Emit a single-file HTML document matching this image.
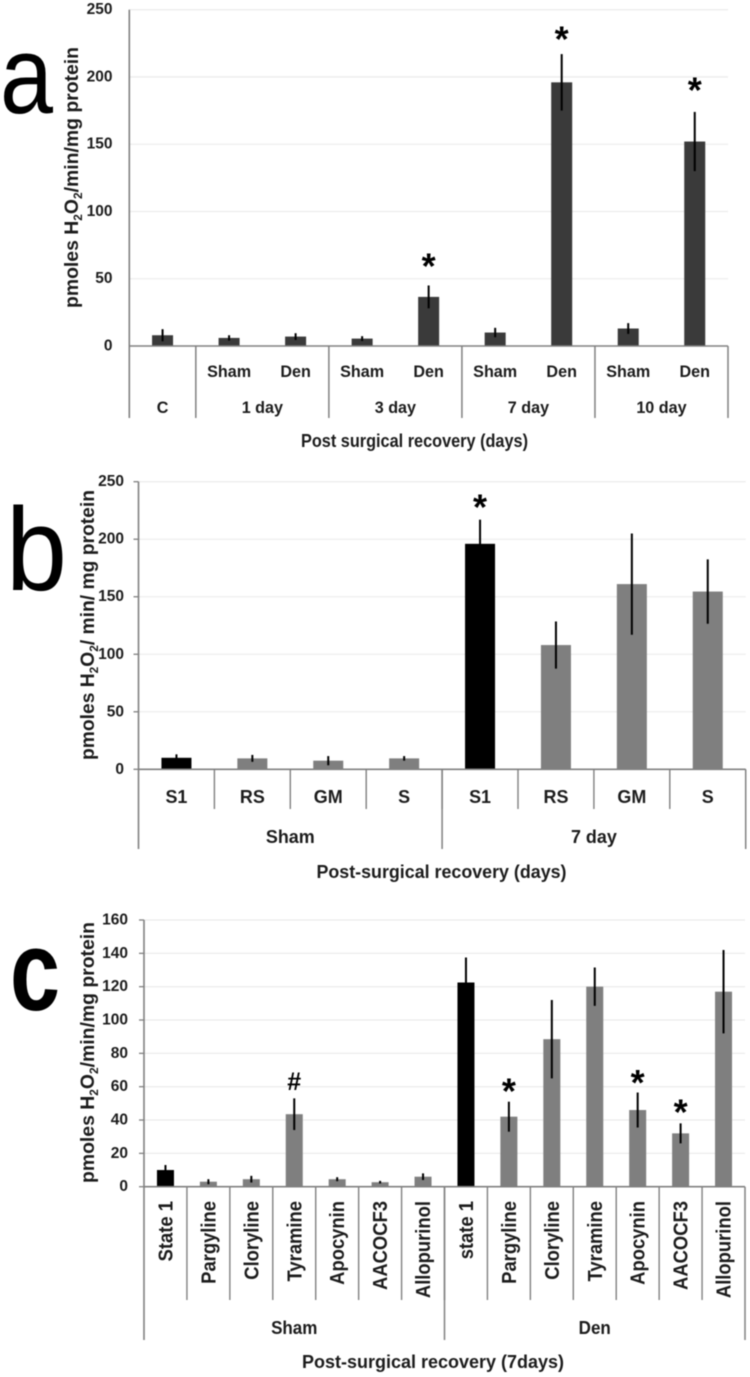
<!DOCTYPE html>
<html lang="en">
<head>
<meta charset="utf-8">
<title>H2O2 production panels</title>
<style>
html,body{margin:0;padding:0;background:#fff;width:750px;height:1377px;overflow:hidden}
svg{display:block;filter:blur(0.45px)}
text{font-family:"Liberation Sans",sans-serif;font-weight:bold;fill:#1c1c1c}
</style>
</head>
<body>
<svg id="fig" xmlns="http://www.w3.org/2000/svg" width="750" height="1377" viewBox="0 0 750 1377">
  <text x="0" y="113" textLength="53" lengthAdjust="spacingAndGlyphs" style="font-size:110px;font-weight:normal;fill:#000">a</text>
  <text x="6" y="590" textLength="61" lengthAdjust="spacingAndGlyphs" style="font-size:118px;font-weight:normal;fill:#000">b</text>
  <text x="10" y="1010" textLength="50" lengthAdjust="spacingAndGlyphs" style="font-size:114px;fill:#000">c</text>
</svg>
<script>
// Panel a data
const aTicks = [0, 50, 100, 150, 200, 250];
const aCategories = ["C", "Sham", "Den", "Sham", "Den", "Sham", "Den", "Sham", "Den"];
const aValues = [8, 6, 7, 5.5, 36.5, 10, 196, 13, 152];
const aErrors = [4.5, 2, 2.5, 1.8, 8.5, 3.5, 21, 4, 22];
const aGroups = ["C", "1 day", "3 day", "7 day", "10 day"];
const aGroupSizes = [1, 2, 2, 2, 2];
const aColors = ["dark", "dark", "dark", "dark", "dark", "dark", "dark", "dark", "dark"];
const aMarkers = [[4, "*", 62], [6, "*", 231], [8, "*", 193]];

// Panel b data
const bTicks = [0, 50, 100, 150, 200, 250];
const bCategories = ["S1", "RS", "GM", "S", "S1", "RS", "GM", "S"];
const bValues = [10, 9.5, 7.5, 9.5, 196, 108, 161, 154.5];
const bErrors = [3, 3, 4, 2, 21, 20.5, 44, 28];
const bGroups = ["Sham", "7 day"];
const bGroupSizes = [4, 4];
const bColors = ["black", "grey", "grey", "grey", "black", "grey", "grey", "grey"];
const bMarkers = [[4, "*", 231]];

// Panel c data
const cTicks = [0, 20, 40, 60, 80, 100, 120, 140, 160];
const cCategories = ["State 1", "Pargyline", "Cloryline", "Tyramine", "Apocynin", "AACOCF3", "Allopurinol", "state 1", "Pargyline", "Cloryline", "Tyramine", "Apocynin", "AACOCF3", "Allopurinol"];
const cValues = [10, 3, 4.5, 43.5, 4.5, 2.7, 6, 122.5, 42, 88.5, 120, 46, 32, 117];
const cErrors = [3, 1.5, 2, 9.5, 1.2, 0.8, 2, 15, 9, 23.5, 11.5, 10.5, 6, 25];
const cGroups = ["Sham", "Den"];
const cGroupSizes = [7, 7];
const cColors = ["black", "grey", "grey", "grey", "grey", "grey", "grey", "black", "grey", "grey", "grey", "grey", "grey", "grey"];
const cMarkers = [[3, "#", 63.4], [8, "*", 59.4], [11, "*", 64.6], [12, "*", 47]];

const svg = document.getElementById('fig');
const NS = 'http://www.w3.org/2000/svg';
const FILL = {dark: '#3a3a3a', grey: '#7f7f7f', black: '#000000'};

function mk(tag, attrs, parent, txt) {
  const e = document.createElementNS(NS, tag);
  for (const k in attrs) e.setAttribute(k, attrs[k]);
  if (txt !== undefined) e.textContent = txt;
  parent.appendChild(e);
  return e;
}

// narrows a label horizontally so it reads like the condensed original type
function condense(t, factor) {
  const w = t.getComputedTextLength();
  t.setAttribute('textLength', (w * factor).toFixed(2));
  t.setAttribute('lengthAdjust', 'spacingAndGlyphs');
}

function drawPanel(id, d, L) {
  const g = mk('g', {}, svg);
  
  

  const maxTick = d.ticks[d.ticks.length - 1];
  const yScale = v => L.y0 - (L.y0 - L.yTop) * v / maxTick;
  const step = (L.right - L.left) / d.categories.length;
  const xEdge = i => L.left + step * i;
  const xMid = i => L.left + step * (i + 0.5);

  // gridlines, y ticks and their labels
  d.ticks.forEach(t => {
    if (t > 0) {
      const gl = mk('line', {x1: L.left, x2: L.right, y1: yScale(t), y2: yScale(t), stroke: '#ececec', 'stroke-width': 1.3}, g);
      
      
    }
    if (L.tickOut) {
      const tk = mk('line', {x1: L.left - L.tickOut, x2: L.left, y1: yScale(t), y2: yScale(t), stroke: '#808080', 'stroke-width': 1.3}, g);
      
      
    }
    const lb = mk('text', {x: L.tickRight, y: yScale(t) + 4.5, 'text-anchor': 'end', 'font-size': 15.5}, g, String(t));
    
    
  });

  // bars and error bars
  d.values.forEach((v, i) => {
    const bar = mk('rect', {x: xMid(i) - L.barW / 2, y: yScale(v), width: L.barW, height: L.y0 - yScale(v), fill: FILL[d.colors[i]]}, g);
    
    
    const er = mk('line', {x1: xMid(i), x2: xMid(i), y1: yScale(v + d.errors[i]), y2: yScale(v - d.errors[i]), stroke: '#000', 'stroke-width': 2}, g);
    
    
  });

  // axes
  const yAxis = mk('line', {x1: L.left, x2: L.left, y1: L.yTop, y2: L.groupBottom, stroke: '#808080', 'stroke-width': 1.6}, g);
  
  
  const xAxis = mk('line', {x1: L.left, x2: L.right, y1: L.y0, y2: L.y0, stroke: '#808080', 'stroke-width': 1.6}, g);
  
  

  // category separators (inner level)
  if (L.innerBottom) {
    d.categories.forEach((c, i) => {
      if (i === 0) return;
      const s = mk('line', {x1: xEdge(i), x2: xEdge(i), y1: L.y0, y2: L.innerBottom, stroke: '#808080', 'stroke-width': 1.4}, g);
      
      
    });
  }

  // category labels
  d.categories.forEach((c, i) => {
    if (L.skipLabel && L.skipLabel.includes(i)) return;
    let t;
    if (L.rotate) {
      t = mk('text', {transform: 'translate(' + (xMid(i) + 7) + ',' + L.catY + ') rotate(-90)', 'text-anchor': 'end', 'font-size': L.catSize}, g, c);
    } else {
      t = mk('text', {x: xMid(i), y: L.catY, 'text-anchor': 'middle', 'font-size': L.catSize}, g, c);
    }
    
    
    condense(t, L.catFactor);
  });

  // group separators and labels
  let pos = 0;
  d.groupSizes.forEach((n, i) => {
    const mid = (xEdge(pos) + xEdge(pos + n)) / 2;
    const lb = mk('text', {x: mid, y: L.groupY, 'text-anchor': 'middle', 'font-size': L.groupSize}, g, d.groups[i]);
    
    
    condense(lb, L.catFactor);
    pos += n;
    const s = mk('line', {x1: xEdge(pos), x2: xEdge(pos), y1: L.y0, y2: L.groupBottom, stroke: '#808080', 'stroke-width': 1.5}, g);
    
    
  });

  // significance markers
  d.markers.forEach(m => {
    const big = m[1] === '*';
    const sz = big ? 36 : 25;
    const off = big ? 16 : 9;
    const t = mk('text', {x: xMid(m[0]), y: yScale(m[2]) + off, 'text-anchor': 'middle', 'font-size': sz, style: 'fill:#000'}, g, m[1]);
    
    
  });

  // x title
  const xt = mk('text', {x: L.xTitleX, y: L.xTitleY, textLength: L.xTitleLen, lengthAdjust: 'spacingAndGlyphs', 'font-size': 18}, g, d.xTitle);
  
  

  // y title with subscripts
  const yt = mk('text', {transform: 'translate(' + L.yTitleX + ',' + L.yTitleBottom + ') rotate(-90)', textLength: L.yTitleLen, lengthAdjust: 'spacingAndGlyphs', 'font-size': 19.5}, g);
  
  
  mk('tspan', {}, yt, 'pmoles H');
  mk('tspan', {dy: 4, 'font-size': 12}, yt, '2');
  mk('tspan', {dy: -4}, yt, 'O');
  mk('tspan', {dy: 4, 'font-size': 12}, yt, '2');
  mk('tspan', {dy: -4}, yt, d.yTail);
}

drawPanel('a', {
  ticks: aTicks, categories: aCategories, values: aValues, errors: aErrors,
  groups: aGroups, groupSizes: aGroupSizes, colors: aColors, markers: aMarkers,
  xTitle: 'Post surgical recovery (days)', yTail: '/min/mg protein'
}, {
  left: 129.3, right: 728, y0: 346, yTop: 9.7, barW: 21, tickRight: 112.5, tickOut: 0,
  catY: 377, catSize: 17, catFactor: 0.95, skipLabel: [0], groupY: 413, groupSize: 17, groupBottom: 418,
  xTitleX: 301, xTitleY: 447, xTitleLen: 227,
  yTitleX: 78, yTitleBottom: 308, yTitleLen: 261
});

drawPanel('b', {
  ticks: bTicks, categories: bCategories, values: bValues, errors: bErrors,
  groups: bGroups, groupSizes: bGroupSizes, colors: bColors, markers: bMarkers,
  xTitle: 'Post-surgical recovery (days)', yTail: '/ min/ mg protein'
}, {
  left: 138.5, right: 745.7, y0: 769.3, yTop: 481.7, barW: 30, tickRight: 124, tickOut: 5,
  catY: 803, catSize: 18.5, catFactor: 0.97, innerBottom: 809, groupY: 843, groupSize: 18.5, groupBottom: 849,
  xTitleX: 316.5, xTitleY: 878, xTitleLen: 250,
  yTitleX: 94, yTitleBottom: 760, yTitleLen: 270
});

drawPanel('c', {
  ticks: cTicks, categories: cCategories, values: cValues, errors: cErrors,
  groups: cGroups, groupSizes: cGroupSizes, colors: cColors, markers: cMarkers,
  xTitle: 'Post-surgical recovery (7days)', yTail: '/min/mg protein'
}, {
  left: 144, right: 745, y0: 1186.7, yTop: 920, barW: 17, tickRight: 128, tickOut: 5,
  catY: 1201, catSize: 20, catFactor: 0.92, rotate: true, innerBottom: 1300, groupY: 1334, groupSize: 18.5, groupBottom: 1340,
  xTitleX: 302, xTitleY: 1368, xTitleLen: 262,
  yTitleX: 94, yTitleBottom: 1183, yTitleLen: 261
});
</script>
</body>
</html>
